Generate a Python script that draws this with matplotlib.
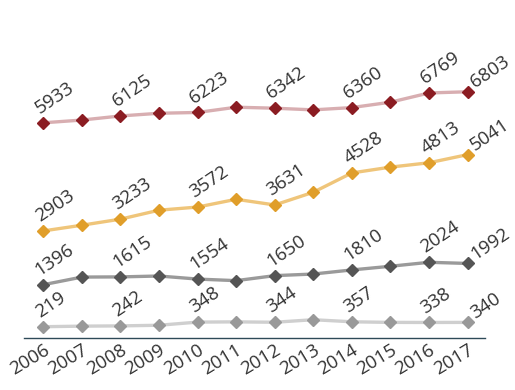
import matplotlib
matplotlib.use('Agg')
import matplotlib.pyplot as plt

plt.rcParams['font.family'] = ['Open Sans', 'DejaVu Sans']

years = ['2006', '2007', '2008', '2009', '2010', '2011',
         '2012', '2013', '2014', '2015', '2016', '2017']

# 四条数据序列（未标注的点为从图中估计的值）
red_vals = [5933, 6010, 6125, 6200, 6223, 6370, 6342, 6295, 6360, 6510, 6769, 6803]
yellow_vals = [2903, 3063, 3233, 3484, 3572, 3790, 3631, 3987, 4528, 4691, 4813, 5041]
dark_vals = [1396, 1610, 1615, 1640, 1554, 1510, 1650, 1695, 1810, 1913, 2024, 1992]
light_vals = [219, 235, 242, 260, 348, 355, 344, 415, 357, 340, 338, 340]

# 只标注这些年份的数值
label_idx = [0, 2, 4, 6, 8, 10, 11]

series = [
    (red_vals, '#d8aeb1', '#8b1c22'),
    (yellow_vals, '#efc57a', '#e09e2a'),
    (dark_vals, '#9a9a9a', '#555555'),
    (light_vals, '#cfcfcf', '#999999'),
]

fig = plt.figure(figsize=(5.15, 3.9), dpi=100)
ax = fig.add_axes([0.0466, 0.134, 0.895, 0.84])

x = list(range(len(years)))
for vals, line_c, mark_c in series:
    ax.plot(x, vals, color=line_c, lw=2.4, zorder=2)
    ax.plot(x, vals, linestyle='none', marker='D', ms=6.5,
            color=mark_c, zorder=3)
    for i in label_idx:
        # 最后一个点的标签放在右边
        off = (7, 0) if i == len(years) - 1 else (-1, 4)
        ax.annotate(str(vals[i]), (x[i], vals[i]), xytext=off,
                    textcoords='offset points', rotation=34,
                    rotation_mode='anchor', ha='left', va='bottom',
                    fontsize=13.5, color='#333333')

ax.set_xlim(-0.5, 11.45)
ax.set_ylim(-90, 9090)
ax.set_xticks(x)
ax.set_xticklabels(years, rotation=31, ha='right', rotation_mode='anchor',
                   fontsize=13.5, color='#333333')
ax.tick_params(axis='x', length=0, pad=2)
ax.set_yticks([])
for s in ['top', 'right', 'left']:
    ax.spines[s].set_visible(False)
ax.spines['bottom'].set_color('#2e4a58')
ax.spines['bottom'].set_linewidth(1.0)

fig.savefig('out.png', dpi=100)
